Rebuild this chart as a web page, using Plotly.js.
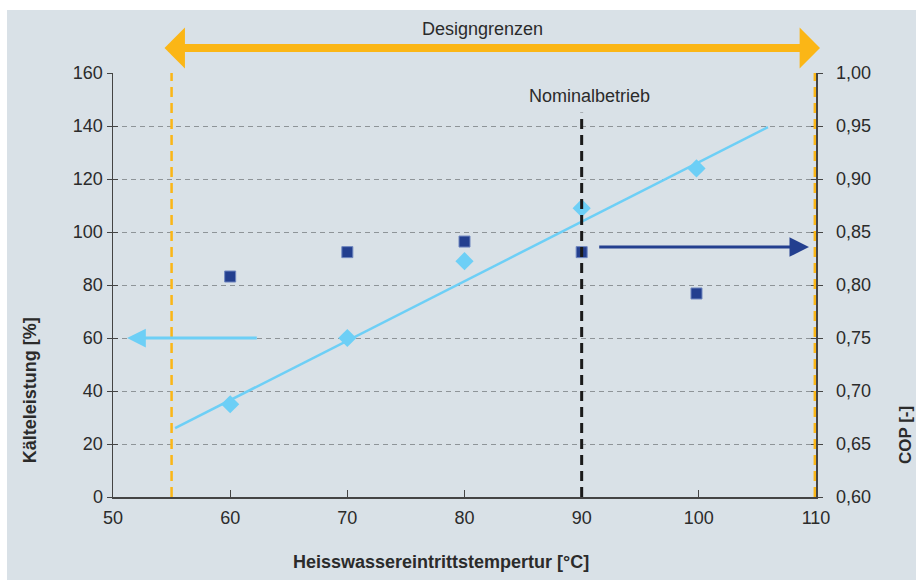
<!DOCTYPE html>
<html>
<head>
<meta charset="utf-8">
<script src="https://cdn.plot.ly/plotly-3.0.1.min.js"></script>
<style>
html,body{margin:0;padding:0;background:#ffffff;}
#chart{position:absolute;left:7px;top:10px;width:909px;height:570px;}
</style>
</head>
<body>
<div id="chart"></div>
<script>
// ---- data ----
const xTemp = [60, 70, 80, 90, 99.8];
const kaelteleistung = [35, 60, 89, 109, 124];      // left axis [%]
const cop = [0.808, 0.831, 0.841, 0.831, 0.792];      // right axis [-]
const trendX = [55.3, 105.9];
const trendY = [26, 139.6];
const designLimits = [55, 109.9];
const nominalX = 90;
const nominalTop = 145;
const leftTicks = [0, 20, 40, 60, 80, 100, 120, 140, 160];
const rightTicks = [0.60, 0.65, 0.70, 0.75, 0.80, 0.85, 0.90, 0.95, 1.00];
const xTicks = [50, 60, 70, 80, 90, 100, 110];

const FONT = 'Liberation Sans, Arial, Helvetica, sans-serif';
const TXT = '#2b2b2b';
const BG = 'rgb(217,225,231)';
const ORANGE = '#fbb616';
const LIGHT = '#6dcff6';
const DARK = '#233f8f';

const traces = [
  { x: trendX, y: trendY, mode: 'lines', line: {color: LIGHT, width: 2.5}, xaxis: 'x', yaxis: 'y', hoverinfo: 'skip' },
  { x: xTemp, y: kaelteleistung, mode: 'markers', marker: {symbol: 'diamond', size: 14, color: LIGHT}, xaxis: 'x', yaxis: 'y', cliponaxis: false },
  { x: xTemp, y: cop, mode: 'markers', marker: {symbol: 'square', size: 11, color: DARK, line: {color: '#6f86bf', width: 1}}, xaxis: 'x', yaxis: 'y2', cliponaxis: false },
  { x: [xTicks[0]], y: [leftTicks[0]], mode: 'none', xaxis: 'x', yaxis: 'y3', hoverinfo: 'skip' },
  { x: [xTicks[0]], y: [rightTicks[0]], mode: 'none', xaxis: 'x', yaxis: 'y4', hoverinfo: 'skip' }
];

const shapes = [
  { type: 'line', xref: 'x', yref: 'y', x0: designLimits[0], x1: designLimits[0], y0: leftTicks[0], y1: leftTicks[leftTicks.length-1], line: {color: ORANGE, width: 2.5, dash: '10px,6px'} },
  { type: 'line', xref: 'x', yref: 'y', x0: designLimits[1], x1: designLimits[1], y0: leftTicks[0], y1: leftTicks[leftTicks.length-1], line: {color: ORANGE, width: 2.5, dash: '10px,6px'} },
  { type: 'line', xref: 'x', yref: 'y', x0: nominalX, x1: nominalX, y0: leftTicks[0], y1: nominalTop, line: {color: '#1a1a1a', width: 3, dash: '10px,6px'} }
];

const annotations = [
  // Design limits double arrow
  { xref: 'paper', yref: 'paper', x: 1.0057, y: 1.059, axref: 'pixel', ayref: 'pixel', ax: -657, ay: 0,
    text: '', showarrow: true, arrowside: 'end+start', arrowhead: 1, startarrowhead: 1,
    arrowsize: 0.85, startarrowsize: 0.85, arrowwidth: 8, arrowcolor: ORANGE, standoff: 0, startstandoff: 0 },
  { xref: 'paper', yref: 'paper', x: 0.526, y: 1.104, text: 'Designgrenzen', showarrow: false,
    xanchor: 'center', yanchor: 'middle', font: {family: FONT, size: 18, color: TXT} },
  { xref: 'x', yref: 'y', x: 90.7, y: 151.3, text: 'Nominalbetrieb', showarrow: false,
    xanchor: 'center', yanchor: 'middle', font: {family: FONT, size: 18, color: TXT} },
  // light blue arrow to left axis
  { xref: 'x', yref: 'y', x: 51.2, y: 60, axref: 'x', ayref: 'y', ax: 62.4, ay: 60,
    text: '', showarrow: true, arrowhead: 2, arrowsize: 1.25, arrowwidth: 3, arrowcolor: LIGHT, standoff: 0 },
  // dark blue arrow to right axis
  { xref: 'x', yref: 'y', x: 109.4, y: 94.3, axref: 'x', ayref: 'y', ax: 91.37, ay: 94.3,
    text: '', showarrow: true, arrowhead: 2, arrowsize: 1.3, arrowwidth: 3, arrowcolor: DARK, standoff: 0 },
  // axis titles
  { xref: 'paper', yref: 'paper', x: 0.4666, y: -0.153, text: '<b>Heisswassereintrittstempertur [°C]</b>', showarrow: false,
    xanchor: 'center', yanchor: 'middle', font: {family: FONT, size: 18, color: TXT} },
  { xref: 'paper', yref: 'paper', x: -0.118, y: 0.252, text: '<b>Kälteleistung [%]</b>', showarrow: false, textangle: -90,
    xanchor: 'center', yanchor: 'middle', font: {family: FONT, size: 18, color: TXT} },
  { xref: 'paper', yref: 'paper', x: 1.1266, y: 0.146, text: '<b>COP [-]</b>', showarrow: false, textangle: -90,
    xanchor: 'center', yanchor: 'middle', font: {family: FONT, size: 17, color: TXT} }
];

const axisLine = '#444444';
const layout = {
  width: 909, height: 570,
  margin: {l: 106, r: 100, t: 63, b: 83, pad: 0},
  paper_bgcolor: BG, plot_bgcolor: BG,
  separators: ',.',
  showlegend: false,
  font: {family: FONT, size: 18, color: TXT},
  xaxis: {
    range: [xTicks[0], xTicks[xTicks.length-1]], tickmode: 'array', tickvals: xTicks, ticktext: xTicks.map(String),
    ticks: 'inside', ticklen: 7, tickwidth: 1, tickcolor: axisLine, ticklabelstandoff: 4,
    showline: true, linecolor: axisLine, linewidth: 1.5, showgrid: false, zeroline: false,
    tickfont: {family: FONT, size: 18, color: TXT}, fixedrange: true
  },
  yaxis: {
    range: [leftTicks[0], leftTicks[leftTicks.length-1]], tickmode: 'array', tickvals: leftTicks, ticktext: leftTicks.map(String),
    ticks: 'outside', ticklen: 5, tickwidth: 1, tickcolor: axisLine,
    showline: true, linecolor: axisLine, linewidth: 1.5,
    showgrid: true, gridcolor: '#8e9498', gridwidth: 1, griddash: '5px,4px', zeroline: false,
    tickfont: {family: FONT, size: 18, color: TXT}, fixedrange: true
  },
  yaxis2: {
    overlaying: 'y', side: 'right',
    range: [rightTicks[0], rightTicks[rightTicks.length-1]], tickmode: 'array', tickvals: rightTicks,
    ticktext: rightTicks.map(v => v.toFixed(2).replace('.', ',')),
    ticks: 'outside', ticklen: 5, tickwidth: 1, tickcolor: axisLine, ticklabelstandoff: 10,
    showline: true, linecolor: axisLine, linewidth: 1.5, showgrid: false, zeroline: false,
    tickfont: {family: FONT, size: 18, color: TXT}, fixedrange: true
  },
  yaxis3: {
    overlaying: 'y', side: 'left', range: [leftTicks[0], leftTicks[leftTicks.length-1]], tickmode: 'array', tickvals: leftTicks,
    ticks: 'inside', ticklen: 5, tickwidth: 1, tickcolor: axisLine, showticklabels: false,
    showline: false, showgrid: false, zeroline: false, fixedrange: true
  },
  yaxis4: {
    overlaying: 'y', side: 'right', range: [rightTicks[0], rightTicks[rightTicks.length-1]], tickmode: 'array', tickvals: rightTicks,
    ticks: 'inside', ticklen: 5, tickwidth: 1, tickcolor: axisLine, showticklabels: false,
    showline: false, showgrid: false, zeroline: false, fixedrange: true
  },
  shapes: shapes,
  annotations: annotations
};

Plotly.newPlot('chart', traces, layout, {staticPlot: true, displayModeBar: false});
</script>
</body>
</html>
